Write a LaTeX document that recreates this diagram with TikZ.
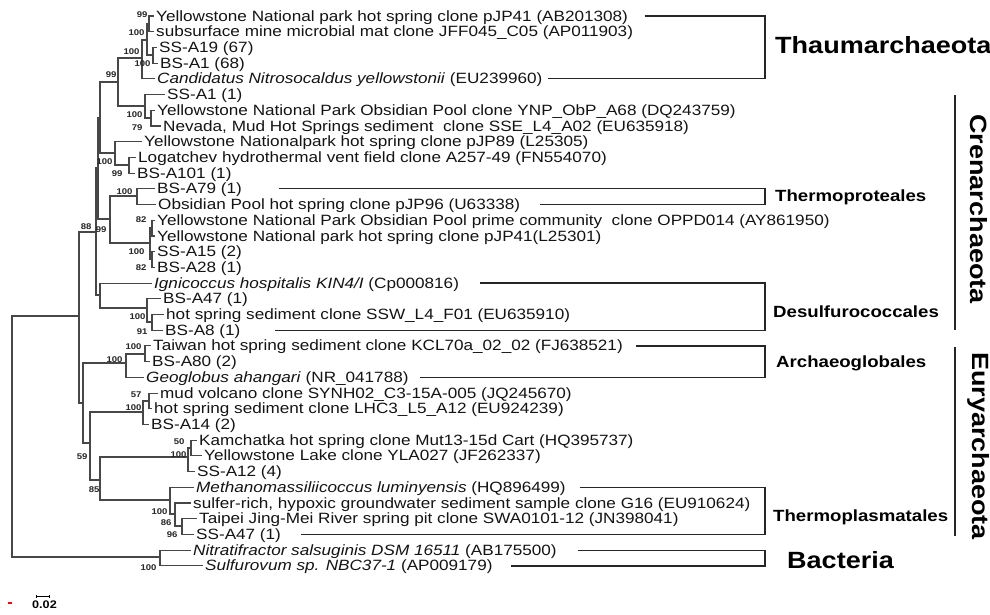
\documentclass[tikz,border=0pt]{standalone}
\usepackage{fontspec}
\setmainfont{Liberation Sans}[FakeStretch=1.15]
\begin{document}
\begin{tikzpicture}[x=1pt,y=-1pt,
  br/.style={line width=1.1pt, black!72, line cap=rect},
  leaf/.style={anchor=west, inner xsep=2.5pt, inner ysep=0pt, text height=10pt, text depth=0pt, font=\fontsize{14.9}{15}\selectfont, text=black!92},
  bs/.style={anchor=east, inner sep=0.3pt, font=\bfseries\fontsize{8.3}{9}\selectfont, text=black!85},
  bracket/.style={line width=1.3pt, black!85},
  clade/.style={anchor=west, inner sep=0pt, font=\bfseries\fontsize{16.2}{17}\selectfont},
  phylum/.style={inner sep=0pt, font=\bfseries\fontsize{23.5}{24}\selectfont}]
\useasboundingbox (0,0) rectangle (990,614);
\fill[white] (0,0) rectangle (990,614);

% leaf tips
\coordinate (t1) at (153.5,16.0);
\coordinate (t2) at (153.5,31.7);
\coordinate (t3) at (156.5,47.4);
\coordinate (t4) at (157.5,63.1);
\coordinate (t5) at (154.5,78.8);
\coordinate (t6) at (164.5,94.6);
\coordinate (t7) at (154.5,110.3);
\coordinate (t8) at (160.5,126.0);
\coordinate (t9) at (141.5,141.7);
\coordinate (t10) at (135.5,157.4);
\coordinate (t11) at (134.5,173.1);
\coordinate (t12) at (154.5,188.8);
\coordinate (t13) at (155.5,204.5);
\coordinate (t14) at (154.5,220.2);
\coordinate (t15) at (154.5,236.0);
\coordinate (t16) at (154.5,251.7);
\coordinate (t17) at (154.5,267.4);
\coordinate (t18) at (151.5,283.1);
\coordinate (t19) at (160.5,298.8);
\coordinate (t20) at (163.5,314.5);
\coordinate (t21) at (162.5,330.2);
\coordinate (t22) at (150.5,345.9);
\coordinate (t23) at (149.5,361.6);
\coordinate (t24) at (143.5,377.4);
\coordinate (t25) at (157.5,393.1);
\coordinate (t26) at (151.5,408.8);
\coordinate (t27) at (148.5,424.5);
\coordinate (t28) at (196.5,440.2);
\coordinate (t29) at (201.5,455.9);
\coordinate (t30) at (194.5,471.6);
\coordinate (t31) at (193.5,487.3);
\coordinate (t32) at (190.5,503.0);
\coordinate (t33) at (196.5,518.7);
\coordinate (t34) at (193.5,534.5);
\coordinate (t35) at (190.5,550.2);
\coordinate (t36) at (202.5,565.9);

% leaf labels
\node[leaf] (l1) at (t1) {Yellowstone National park hot spring clone pJP41 (AB201308)};
\node[leaf] (l2) at (t2) {subsurface mine microbial mat clone JFF045\_C05 (AP011903)};
\node[leaf] (l3) at (t3) {SS-A19 (67)};
\node[leaf] (l4) at (t4) {BS-A1 (68)};
\node[leaf] (l5) at (t5) {\textit{Candidatus Nitrosocaldus yellowstonii} (EU239960)};
\node[leaf] (l6) at (t6) {SS-A1 (1)};
\node[leaf] (l7) at (t7) {Yellowstone National Park Obsidian Pool clone YNP\_ObP\_A68 (DQ243759)};
\node[leaf] (l8) at (t8) {Nevada, Mud Hot Springs sediment~ clone SSE\_L4\_A02 (EU635918)};
\node[leaf] (l9) at (t9) {Yellowstone Nationalpark hot spring clone pJP89 (L25305)};
\node[leaf] (l10) at (t10) {Logatchev hydrothermal vent field clone A257-49 (FN554070)};
\node[leaf] (l11) at (t11) {BS-A101 (1)};
\node[leaf] (l12) at (t12) {BS-A79 (1)};
\node[leaf] (l13) at (t13) {Obsidian Pool hot spring clone pJP96 (U63338)};
\node[leaf] (l14) at (t14) {Yellowstone National Park Obsidian Pool prime community~ clone OPPD014 (AY861950)};
\node[leaf] (l15) at (t15) {Yellowstone National park hot spring clone pJP41(L25301)};
\node[leaf] (l16) at (t16) {SS-A15 (2)};
\node[leaf] (l17) at (t17) {BS-A28 (1)};
\node[leaf] (l18) at (t18) {\textit{Ignicoccus hospitalis KIN4/I} (Cp000816)};
\node[leaf] (l19) at (t19) {BS-A47 (1)};
\node[leaf] (l20) at (t20) {hot spring sediment clone SSW\_L4\_F01 (EU635910)};
\node[leaf] (l21) at (t21) {BS-A8 (1)};
\node[leaf] (l22) at (t22) {Taiwan hot spring sediment clone KCL70a\_02\_02 (FJ638521)};
\node[leaf] (l23) at (t23) {BS-A80 (2)};
\node[leaf] (l24) at (t24) {\textit{Geoglobus ahangari} (NR\_041788)};
\node[leaf] (l25) at (t25) {mud volcano clone SYNH02\_C3-15A-005 (JQ245670)};
\node[leaf] (l26) at (t26) {hot spring sediment clone LHC3\_L5\_A12 (EU924239)};
\node[leaf] (l27) at (t27) {BS-A14 (2)};
\node[leaf] (l28) at (t28) {Kamchatka hot spring clone Mut13-15d Cart (HQ395737)};
\node[leaf] (l29) at (t29) {Yellowstone Lake clone YLA027 (JF262337)};
\node[leaf] (l30) at (t30) {SS-A12 (4)};
\node[leaf] (l31) at (t31) {\textit{Methanomassiliicoccus luminyensis} (HQ896499)};
\node[leaf] (l32) at (t32) {sulfer-rich, hypoxic groundwater sediment sample clone G16 (EU910624)};
\node[leaf] (l33) at (t33) {Taipei Jing-Mei River spring pit clone SWA0101-12 (JN398041)};
\node[leaf] (l34) at (t34) {SS-A47 (1)};
\node[leaf] (l35) at (t35) {\textit{Nitratifractor salsuginis DSM 16511} (AB175500)};
\node[leaf] (l36) at (t36) {\textit{Sulfurovum sp. NBC37-1} (AP009179)};

% internal nodes
\coordinate (nA) at (149,24);
\coordinate (nB) at (153,55);
\coordinate (nC) at (147,40);
\coordinate (nW) at (142,58);
\coordinate (nP) at (151,118);
\coordinate (nQ) at (145,106);
\coordinate (nR) at (118,82);
\coordinate (nT) at (129,165);
\coordinate (nS) at (115,153);
\coordinate (nU) at (137,196);
\coordinate (nVa) at (152,228);
\coordinate (nVb) at (152,259);
\coordinate (nV) at (150,243);
\coordinate (nUV) at (110,219);
\coordinate (nNa) at (100,118);
\coordinate (nNb) at (98,168);
\coordinate (nIGb) at (152,322);
\coordinate (nIGa) at (147,308);
\coordinate (nIG) at (100,295);
\coordinate (nCT) at (96,232);
\coordinate (nAra) at (145,354);
\coordinate (nAr) at (126,363);
\coordinate (nMuda) at (149,401);
\coordinate (nMud) at (143,412);
\coordinate (nKama) at (191,448);
\coordinate (nKam) at (188,457);
\coordinate (nMethc) at (182,526);
\coordinate (nMethb) at (175,514);
\coordinate (nMeth) at (170,500);
\coordinate (nEc) at (100,480);
\coordinate (nEb) at (90,443);
\coordinate (nEury) at (83,403);
\coordinate (nArch) at (79,316);
\coordinate (nBac) at (160,557);
\coordinate (nRoot) at (12,436);

% branches
\foreach \p/\c in {nA/t1,nA/t2,nB/t3,nB/t4,nC/nA,nC/nB,nW/nC,nW/t5,
  nP/t7,nP/t8,nQ/t6,nQ/nP,nR/nW,nR/nQ,nT/t10,nT/t11,nS/t9,nS/nT,
  nU/t12,nU/t13,nVa/t14,nVa/t15,nVb/t16,nVb/t17,nV/nVa,nV/nVb,nUV/nU,nUV/nV,
  nNa/nR,nNa/nS,nNb/nNa,nNb/nUV,nIGb/t20,nIGb/t21,nIGa/t19,nIGa/nIGb,nIG/t18,nIG/nIGa,
  nCT/nNb,nCT/nIG,nAra/t22,nAra/t23,nAr/nAra,nAr/t24,nMuda/t25,nMuda/t26,nMud/nMuda,nMud/t27,
  nKama/t28,nKama/t29,nKam/nKama,nKam/t30,nMethc/t33,nMethc/t34,nMethb/t32,nMethb/nMethc,
  nMeth/t31,nMeth/nMethb,nEc/nKam,nEc/nMeth,nEb/nMud,nEb/nEc,nEury/nAr,nEury/nEb,
  nArch/nCT,nArch/nEury,nBac/t35,nBac/t36,nRoot/nArch,nRoot/nBac}
  \draw[br] (\p) |- (\c);

% bootstrap values
\node[bs] (b1) at (148,15) {99};
\node[bs] (b2) at (145,33) {100};
\node[bs] (b3) at (151,64) {100};
\node[bs] (b4) at (140,52) {100};
\node[bs] (b5) at (117,75) {99};
\node[bs] (b6) at (143,115) {100};
\node[bs] (b7) at (143,128) {79};
\node[bs] (b8) at (113,162) {100};
\node[bs] (b9) at (123,174) {99};
\node[bs] (b10) at (133,192) {100};
\node[bs] (b11) at (147,220) {82};
\node[bs] (b12) at (145,252) {100};
\node[bs] (b13) at (147,268) {82};
\node[bs] (b14) at (92,227) {88};
\node[bs] (b15) at (107,230) {99};
\node[bs] (b16) at (146,317) {100};
\node[bs] (b17) at (148,332) {91};
\node[bs] (b18) at (142,347) {100};
\node[bs] (b19) at (123,360) {100};
\node[bs] (b20) at (142,395) {57};
\node[bs] (b21) at (142,408) {100};
\node[bs] (b22) at (185,442) {50};
\node[bs] (b23) at (187,455) {100};
\node[bs] (b24) at (88,457) {59};
\node[bs] (b25) at (100,490) {85};
\node[bs] (b26) at (168,512) {100};
\node[bs] (b27) at (172,523) {86};
\node[bs] (b28) at (178,535) {96};
\node[bs] (b29) at (157,568) {100};

% clade brackets
\coordinate (bx) at (765,0);
\draw[bracket] ([xshift=14pt]l1.east) -- (l1.east -| bx) -- (l5.east -| bx) -- ([xshift=3pt]l5.east);
\draw[bracket] ([xshift=34pt]l12.east) -- (l12.east -| bx) -- (l13.east -| bx) -- ([xshift=17pt]l13.east);
\draw[bracket] ([xshift=18pt]l18.east) -- (l18.east -| bx) -- (l21.east -| bx) -- ([xshift=32pt]l21.east);
\draw[bracket] ([xshift=10pt]l22.east) -- (l22.east -| bx) -- (l24.east -| bx) -- ([xshift=9pt]l24.east);
\draw[bracket] ([xshift=12pt]l31.east) -- (l31.east -| bx) -- (l34.east -| bx) -- ([xshift=17pt]l34.east);
\draw[bracket] ([xshift=19pt]l35.east) -- (l35.east -| bx) -- (l36.east -| bx) -- ([xshift=16pt]l36.east);

\node[phylum, anchor=west] (thaum) at (775,45) {Thaumarchaeota};
\node[clade] (thermoprot) at (775,197) {Thermoproteales};
\node[clade] (desulf) at (773,312) {Desulfurococcales};
\node[clade] (archaeo) at (776,363) {Archaeoglobales};
\node[clade] (thermopl) at (773,517) {Thermoplasmatales};
\node[phylum, anchor=west] (bact) at (787,560) {Bacteria};

\coordinate (crT) at (955,95);
\coordinate (crB) at (955,330);
\coordinate (euT) at (955,347);
\coordinate (euB) at (955,536);
\draw[bracket] (crT) -- (crB);
\draw[bracket] (euT) -- (euB);
\node[phylum, rotate=-90] (cren) at (979,209) {Crenarchaeota};
\node[phylum, rotate=-90] (eury) at (979,446) {Euryarchaeota};

% scale bar
\coordinate (sbL) at (36,596);
\coordinate (sbR) at (49,596);
\draw[line width=0.8pt] (sbL) -- (sbR);
\draw[line width=0.8pt] ([yshift=-1.5pt]sbL) -- ([yshift=1.5pt]sbL);
\draw[line width=0.8pt] ([yshift=-1.5pt]sbR) -- ([yshift=1.5pt]sbR);
\node[inner sep=0pt, font=\bfseries\fontsize{11}{11}\selectfont] (sbt) at (44.5,605) {0.02};
\coordinate (rdL) at (8,603);
\coordinate (rdR) at (11.5,603);
\draw[red, line width=1.6pt] (rdL) -- (rdR);
\end{tikzpicture}
\end{document}
